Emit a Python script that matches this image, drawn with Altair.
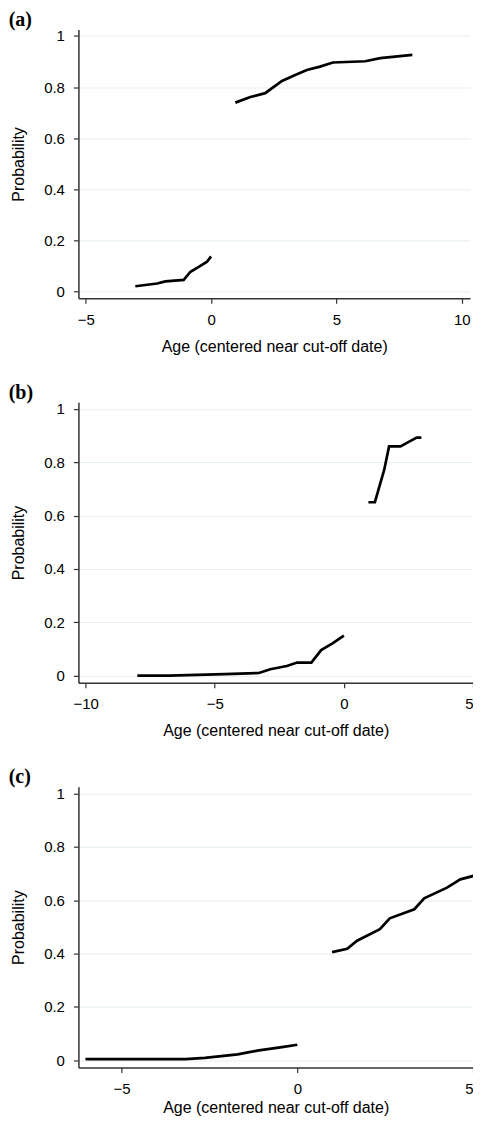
import altair as alt
import pandas as pd

# ---- data ----
a_left_x = [-3.02, -2.15, -1.82, -1.09, -0.82, -0.49, -0.16, 0.0]
a_left_y = [0.020, 0.031, 0.039, 0.045, 0.077, 0.096, 0.116, 0.137]
a_right_x = [0.97, 1.57, 2.16, 2.83, 3.29, 3.82, 4.35, 4.86, 6.15, 6.75, 8.03]
a_right_y = [0.739, 0.761, 0.776, 0.824, 0.844, 0.867, 0.880, 0.896, 0.901, 0.913, 0.926]

b_left_x = [-8.0, -6.77, -4.62, -3.29, -2.85, -2.21, -1.81, -1.26, -0.88, -0.44, 0.0]
b_left_y = [0.0, 0.0, 0.006, 0.010, 0.024, 0.036, 0.049, 0.049, 0.096, 0.121, 0.150]
b_right_x = [0.95, 1.2, 1.56, 1.75, 2.19, 2.53, 2.82, 3.0]
b_right_y = [0.650, 0.650, 0.771, 0.859, 0.859, 0.877, 0.892, 0.892]

c_left_x = [-6.03, -3.18, -2.63, -1.70, -1.14, -0.39, 0.0]
c_left_y = [0.004, 0.004, 0.009, 0.022, 0.036, 0.050, 0.058]
c_right_x = [0.99, 1.42, 1.70, 2.35, 2.63, 3.33, 3.61, 4.26, 4.64, 5.04]
c_right_y = [0.405, 0.418, 0.448, 0.491, 0.532, 0.566, 0.607, 0.647, 0.678, 0.692]

y_ticks = [0, 0.2, 0.4, 0.6, 0.8, 1]
x_title = "Age (centered near cut-off date)"


def panel(label, lx, ly, rx, ry, xdom, xticks, w, h, xtitle_pad=11,
          flush_last=False):
    df = pd.DataFrame({
        "x": lx + rx,
        "y": ly + ry,
        "seg": ["left"] * len(lx) + ["right"] * len(rx),
    })
    xaxis_kw = dict(values=xticks, title=x_title, grid=False, format="d",
                    labelPadding=9, titlePadding=xtitle_pad)
    if flush_last:
        xaxis_kw["labelAlign"] = {
            "condition": {"test": f"datum.value == {xticks[-1]}",
                          "value": "right"},
            "value": "center",
        }
    return alt.Chart(
        df,
        title=alt.TitleParams(
            label, anchor="start", frame="bounds", font="Liberation Serif",
            fontSize=20, fontWeight="bold", color="black", offset=-1, dx=-2,
        ),
    ).mark_line(color="black", strokeWidth=2.7, clip=True).encode(
        x=alt.X("x:Q",
                scale=alt.Scale(domain=xdom, nice=False, zero=False),
                axis=alt.Axis(**xaxis_kw)),
        y=alt.Y("y:Q",
                scale=alt.Scale(domain=[-0.027, 1.025], nice=False, zero=False),
                axis=alt.Axis(values=y_ticks, title="Probability", grid=True,
                              format="~g", labelPadding=9, titlePadding=17)),
        detail="seg:N",
    ).properties(width=w, height=h)


pa = panel("(a)", a_left_x, a_left_y, a_right_x, a_right_y,
           [-5.29, 10.33], [-5, 0, 5, 10], 392, 269)
pb = panel("(b)", b_left_x, b_left_y, b_right_x, b_right_y,
           [-10.28, 5.0], [-10, -5, 0, 5], 395, 281, flush_last=True)
pc = panel("(c)", c_left_x, c_left_y, c_right_x, c_right_y,
           [-6.23, 5.0], [-5, 0, 5], 395, 281, xtitle_pad=3, flush_last=True)

chart = alt.vconcat(pa, pb, pc, spacing=28).properties(
    padding={"left": 0.5, "top": 1, "right": -1, "bottom": 0},
).configure_view(stroke=None).configure_axis(
    labelFont="Liberation Sans", labelFontSize=15, labelColor="black",
    titleFont="Liberation Sans", titleFontSize=16, titleFontWeight="normal",
    titleColor="black",
    domainColor="#333333", domainWidth=1.5,
    tickColor="#333333", tickWidth=1.2, tickSize=5,
    gridColor="#e4eef0", gridWidth=1,
).configure_title(anchor="start")

chart.save("out.html", embed_options={"renderer": "svg", "actions": False})
